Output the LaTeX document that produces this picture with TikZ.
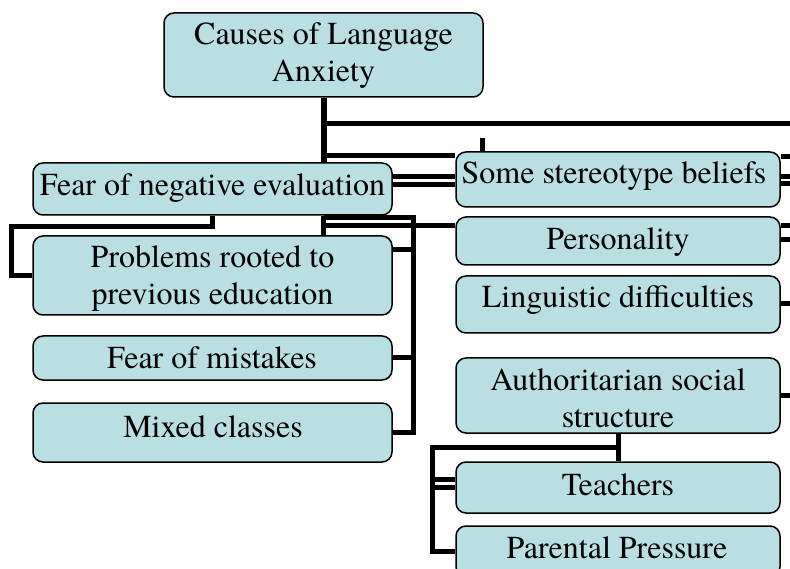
\documentclass[tikz,border=0pt]{standalone}
\usepackage{fontspec}
\setmainfont{texgyretermes-regular.otf}
\usetikzlibrary{calc,backgrounds}
\definecolor{boxfill}{RGB}{185,223,227}
\tikzset{
  box/.style={draw=black, line width=1.5pt, fill=boxfill, rounded corners=10pt, inner sep=0pt},
  lbl/.style={font=\fontsize{32}{37}\selectfont, inner sep=0pt, align=center},
  link/.style={draw=black, line width=5pt},
}
\begin{document}
\begin{tikzpicture}[x=1pt, y=-1pt]
\useasboundingbox (0,0) rectangle (790,569);
\clip (0,0) rectangle (790,569);
\coordinate (edge) at (790,0);

% boxes
\node[box, minimum width=319pt, minimum height=84pt] (root)     at (323.5,55)   {};
\node[box, minimum width=359pt, minimum height=52pt] (fear)     at (212.5,189)  {};
\node[box, minimum width=359pt, minimum height=79pt] (problems) at (212.5,275.5){};
\node[box, minimum width=359pt, minimum height=44pt] (mistakes) at (212.5,358)  {};
\node[box, minimum width=359pt, minimum height=59pt] (mixed)    at (212.5,432.5){};
\node[box, minimum width=324pt, minimum height=55pt] (stereo)   at (618,179.5)  {};
\node[box, minimum width=324pt, minimum height=48pt] (person)   at (618,241)    {};
\node[box, minimum width=324pt, minimum height=57pt] (ling)     at (618,304.5)  {};
\node[box, minimum width=324pt, minimum height=75pt] (auth)     at (618,395.5)  {};
\node[box, minimum width=324pt, minimum height=51pt] (teach)    at (618,487.5)  {};
\node[box, minimum width=324pt, minimum height=51pt] (parent)   at (618,551.5)  {};

% labels
\node[lbl] (rootT)     at (323.5,56)            {Causes of Language\\Anxiety};
\node[lbl, anchor=base] (fearT)     at (212.5,195.5) {Fear of negative evaluation};
\node[lbl] (problemsT) at (212.5,279)           {Problems rooted to\\previous education};
\node[lbl, anchor=base] (mistakesT) at (212,368)     {Fear of mistakes};
\node[lbl, anchor=base] (mixedT)    at (213,437)     {Mixed classes};
\node[lbl, anchor=base] (stereoT)   at (614,184)     {Some stereotype beliefs};
\node[lbl, anchor=base] (personT)   at (618,250)     {Personality};
\node[lbl, anchor=base] (lingT)     at (618,307.5)   {Linguistic difficulties};
\node[lbl] (authT)     at (618,398)             {Authoritarian social\\structure};
\node[lbl, anchor=base] (teachT)    at (618,495)     {Teachers};
\node[lbl, anchor=base] (parentT)   at (617,558)     {Parental Pressure};

\begin{scope}[on background layer]
  % main trunk
  \draw[link, line width=6pt] (root.south) -- (root.south |- fear.north);
  \draw[link] (root.south |- 0,123.5) -- (edge |- 0,123.5);
  \draw[link] (root.south |- 0,156) -- (stereo.west |- 0,156);
  \draw[link] ($(stereo.north west)+(27,0)$) -- ++(0,-13);
  \foreach \yy in {176.5,185}
    \draw[link] (fear.east |- 0,\yy) -- (stereo.west |- 0,\yy);
  % stubs leaving the right column
  \foreach \n/\yy in {stereo/157, stereo/177, stereo/184, person/226, person/239.5, ling/304, auth/395}
    \draw[link] (\n.east |- 0,\yy) -- (edge |- 0,\yy);
  % trunk below Fear of negative evaluation
  \draw[link] (root.south |- fear.south) -- (root.south |- problems.north);
  \coordinate (rail) at (413,217.5);
  \draw[link] (root.south |- rail) -- (rail) -- (rail |- mixed.east) -- (mixed.east);
  \draw[link] (rail |- 0,250) -- (problems.east |- 0,250);
  \draw[link] (rail |- mistakes.east) -- (mistakes.east);
  \draw[link] (root.south |- 0,226) -- (person.west |- 0,226);
  % loop on the left
  \draw[link] (fear.south) -- ++(0,11) -| ($(problems.west)+(-21,0)$) -- (problems.west);
  % lower group
  \draw[link] (auth.south) -- (teach.north);
  \coordinate (lrail) at (432,447.5);
  \draw[link] (auth.south |- lrail) -- (lrail) |- (parent.west);
  \foreach \yy in {479,487.5}
    \draw[link] (lrail |- 0,\yy) -- (teach.west |- 0,\yy);
\end{scope}
\end{tikzpicture}
\end{document}
